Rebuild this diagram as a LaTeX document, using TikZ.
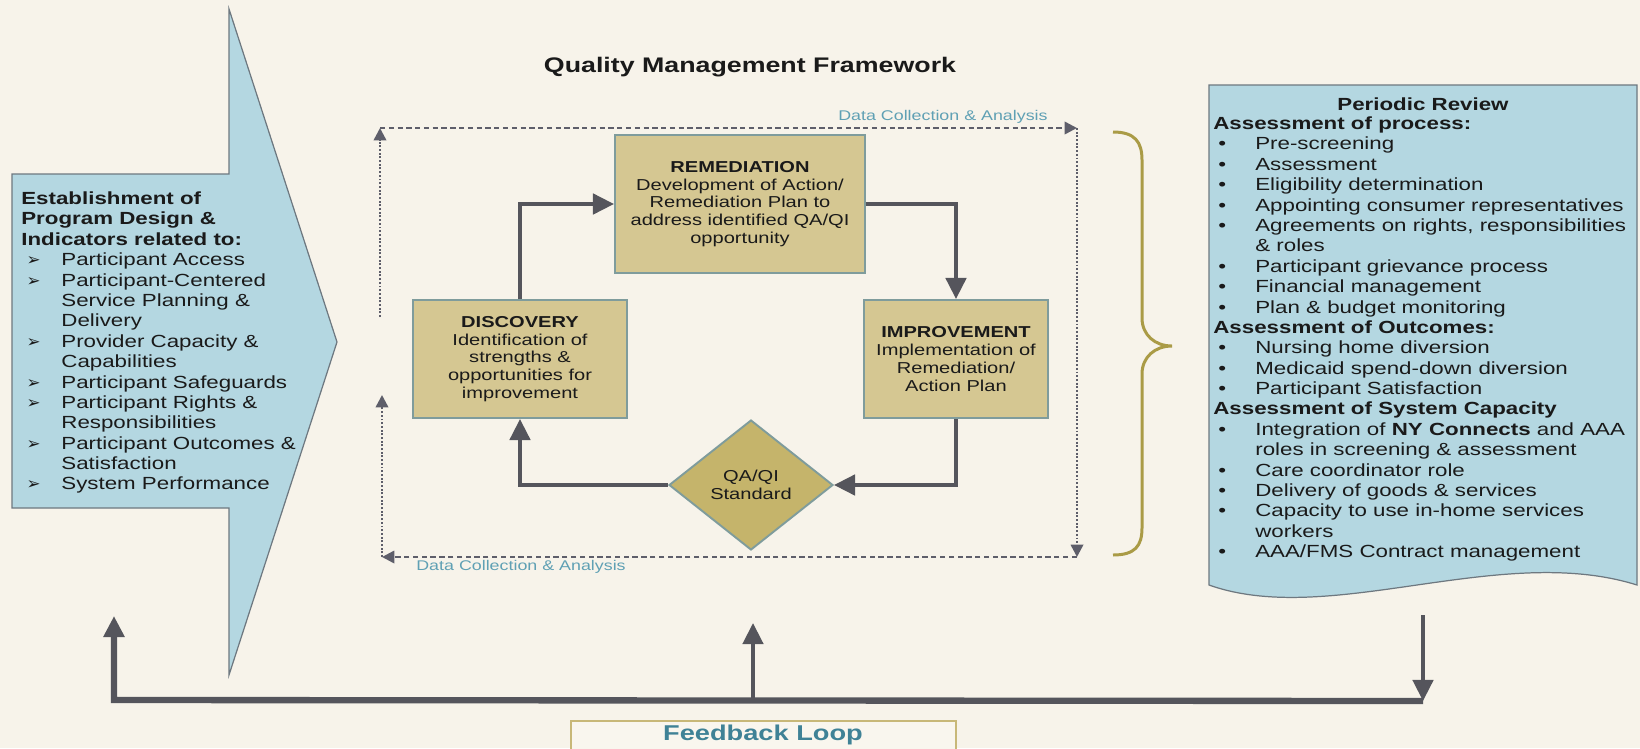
\documentclass[tikz,border=0pt]{standalone}
\usepackage{fontspec}
\setmainfont{Liberation Sans}[FakeStretch=1.27]
\newfontfamily\dejavu{DejaVu Sans}
\usepackage{tikz}
\usetikzlibrary{arrows.meta,shapes.geometric}

\definecolor{bg}{HTML}{F7F3EA}
\definecolor{skyb}{HTML}{B4D7E1}
\definecolor{edgeg}{HTML}{6E7880}
\definecolor{tanbox}{HTML}{D5C792}
\definecolor{gold}{HTML}{C5B46B}
\definecolor{boxedge}{HTML}{7F9C9C}
\definecolor{darkg}{HTML}{55555C}
\definecolor{dashg}{HTML}{5E5E6A}
\definecolor{datac}{HTML}{5FA0B4}
\definecolor{bracec}{HTML}{AA9B46}
\definecolor{fbtext}{HTML}{3F8296}
\definecolor{fbedge}{HTML}{C8B878}
\definecolor{fbfill}{HTML}{F9F6EE}
\definecolor{txt}{HTML}{1A1A1A}

\newcommand{\lbul}{\hspace*{3pt}\makebox[19.8pt][l]{\dejavu\fontsize{9.5}{9.5}\selectfont ➢}}
\newcommand{\lind}{\hspace*{22.8pt}}
\newcommand{\rbul}{\hspace*{2.8pt}\makebox[21.1pt][l]{•}}
\newcommand{\rind}{\hspace*{23.9pt}}

\begin{document}
\begin{tikzpicture}[x=0.02cm,y=-0.02cm]
        \tikzstyle{stage} = [draw=boxedge, line width=1.1pt, fill=tanbox, text=txt, align=center, inner sep=0pt, font=\fontsize{9}{10.1}\selectfont]
        \tikzstyle{con} = [darkg, line width=2.3pt, -{Triangle[length=12pt,width=11.5pt]}]
        \tikzstyle{dl} = [dashg, line width=1.4pt, dash pattern=on 3pt off 2pt, -{Triangle[length=7pt,width=7pt]}]
        \tikzstyle{dt} = [dashg, line width=1.4pt, dash pattern=on 1.1pt off 1pt, -{Triangle[length=7pt,width=7pt]}]
        \tikzstyle{lab} = [datac, font=\fontsize{8}{9}\selectfont, inner sep=0pt]
        \tikzstyle{fb} = [darkg, -{Triangle[length=12pt,width=11.5pt]}]
        \tikzstyle{list} = [anchor=north west, align=left, inner sep=0pt, text=txt, font=\fontsize{10}{11.6}\selectfont]

        \useasboundingbox (0,0) rectangle (1640,748);
        \fill[bg] (0,0) rectangle (1640,748);

        % side shapes
        \filldraw[fill=skyb, draw=edgeg, line width=0.7pt] (12,174) -- (229,174) -- (229,9) -- (337,342)
            -- (229,675) -- (229,508) -- (12,508) -- cycle;
        \filldraw[fill=skyb, draw=edgeg, line width=0.7pt] (1209,85) -- (1637,85) -- (1637,585)
            .. controls (1500,542) and (1330,628) .. (1209,585) -- cycle;

        \node[font=\bfseries\fontsize{12}{14}\selectfont, text=txt](title) at (750,67){Quality Management Framework};

        \node[stage, minimum width=5cm, minimum height=2.76cm](rem) at (740,204)
            {\textbf{REMEDIATION}\\Development of Action/\\Remediation Plan to\\address identified QA/QI\\opportunity};
        \node[stage, minimum width=4.28cm, minimum height=2.36cm](disc) at (520,359)
            {\textbf{DISCOVERY}\\Identification of\\strengths \&\\opportunities for\\improvement};
        \node[stage, minimum width=3.68cm, minimum height=2.36cm](imp) at (956,359)
            {\textbf{IMPROVEMENT}\\Implementation of\\Remediation/\\Action Plan};
        \node[stage, diamond, fill=gold, minimum width=3.28cm, minimum height=2.6cm](qa) at (751,485)
            {QA/QI\\Standard};

        \draw[con](disc.north) |- (rem.west);
        \draw[con](rem.east) -| (imp.north);
        \draw[con](imp.south) |- (qa.east);
        \draw[con](qa.west) -| (disc.south);

        % data collection loop
        \coordinate (tl) at (380,128);
        \coordinate (tr) at (1077,128);
        \coordinate (br) at (1077,557);
        \coordinate (bl) at (382,557);
        \coordinate (lu) at (380,317);
        \coordinate (ll) at (382,395);
        \draw[dl](tl) -- (tr);
        \draw[dt](tr) -- (br);
        \draw[dl](br) -- (bl);
        \draw[dt](bl) -- (ll);
        \draw[dt](lu) -- (tl);
        \node[lab, anchor=east](dca) at (1048,117){Data Collection \& Analysis};
        \node[lab, anchor=west](dcb) at (416,567){Data Collection \& Analysis};

        \draw[bracec, line width=1.7pt] (1113,132) .. controls (1135,132) and (1142,142) .. (1142,160)
            -- (1142,318) .. controls (1142,335) and (1155,346) .. (1172,346)
            .. controls (1155,346) and (1142,357) .. (1142,374)
            -- (1142,528) .. controls (1142,546) and (1135,555) .. (1113,555);

        \node[list](est) at (21,191.5){\textbf{Establishment of}\\
            \textbf{Program Design \&}\\
            \textbf{Indicators related to:}\\
            \lbul Participant Access\\
            \lbul Participant-Centered\\
            \lind Service Planning \&\\
            \lind Delivery\\
            \lbul Provider Capacity \&\\
            \lind Capabilities\\
            \lbul Participant Safeguards\\
            \lbul Participant Rights \&\\
            \lind Responsibilities\\
            \lbul Participant Outcomes \&\\
            \lind Satisfaction\\
            \lbul System Performance};

        \node[font=\bfseries\fontsize{10}{11.6}\selectfont, text=txt](prev) at (1423,104){Periodic Review};
        \node[list](rev) at (1213,116.5){\textbf{Assessment of process:}\\
            \rbul Pre-screening\\
            \rbul Assessment\\
            \rbul Eligibility determination\\
            \rbul Appointing consumer representatives\\
            \rbul Agreements on rights, responsibilities\\
            \rind \& roles\\
            \rbul Participant grievance process\\
            \rbul Financial management\\
            \rbul Plan \& budget monitoring\\
            \textbf{Assessment of Outcomes:}\\
            \rbul Nursing home diversion\\
            \rbul Medicaid spend-down diversion\\
            \rbul Participant Satisfaction\\
            \textbf{Assessment of System Capacity}\\
            \rbul Integration of \textbf{NY Connects} and AAA\\
            \rind roles in screening \& assessment\\
            \rbul Care coordinator role\\
            \rbul Delivery of goods \& services\\
            \rbul Capacity to use in-home services\\
            \rind workers\\
            \rbul AAA/FMS Contract management};

        % feedback loop
        \coordinate (fbl) at (114,700);
        \coordinate (fbm) at (753,700);
        \coordinate (fbr) at (1423,701);
        \coordinate (fa1) at (114,616);
        \coordinate (fa2) at (753,623);
        \coordinate (fa3) at (1423,615);
        \draw[fb, line width=3.6pt](fbr) -- (fbl) -- (fa1);
        \draw[fb, line width=2.3pt](fbm) -- (fa2);
        \draw[fb, line width=2.3pt](fa3) -- (fbr);
        \draw[fbedge, fill=fbfill, line width=1.1pt] (571,721) rectangle (956,762);
        \node[font=\bfseries\fontsize{12.2}{14}\selectfont, text=fbtext](fbk) at (763,735){Feedback Loop};
\end{tikzpicture}
\end{document}
